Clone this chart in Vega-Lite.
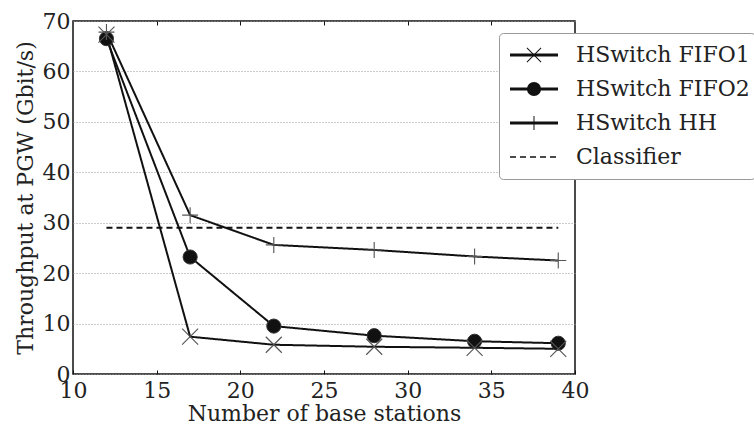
{
  "$schema": "https://vega.github.io/schema/vega-lite/v6.json",
  "width": 502,
  "height": 353,
  "autosize": "none",
  "padding": {"left": 73, "top": 21, "right": 179, "bottom": 54},
  "background": "white",
  "config": {
    "font": "DejaVu Serif",
    "view": {"stroke": "#111", "strokeWidth": 1.5},
    "axis": {
      "labelFont": "DejaVu Serif",
      "titleFont": "DejaVu Serif",
      "labelFontSize": 22,
      "titleFontSize": 22,
      "titleFontWeight": "normal",
      "labelColor": "#222",
      "titleColor": "#222",
      "labelFlush": false,
      "domain": false
    }
  },
  "data": {
    "values": [
      {"series": "HSwitch FIFO1", "x": 12, "y": 67.3},
      {"series": "HSwitch FIFO1", "x": 17, "y": 7.4},
      {"series": "HSwitch FIFO1", "x": 22, "y": 5.8},
      {"series": "HSwitch FIFO1", "x": 28, "y": 5.4},
      {"series": "HSwitch FIFO1", "x": 34, "y": 5.2},
      {"series": "HSwitch FIFO1", "x": 39, "y": 5.0},
      {"series": "HSwitch FIFO2", "x": 12, "y": 66.5},
      {"series": "HSwitch FIFO2", "x": 17, "y": 23.2},
      {"series": "HSwitch FIFO2", "x": 22, "y": 9.5},
      {"series": "HSwitch FIFO2", "x": 28, "y": 7.6},
      {"series": "HSwitch FIFO2", "x": 34, "y": 6.5},
      {"series": "HSwitch FIFO2", "x": 39, "y": 6.1},
      {"series": "HSwitch HH", "x": 12, "y": 67.8},
      {"series": "HSwitch HH", "x": 17, "y": 31.5},
      {"series": "HSwitch HH", "x": 22, "y": 25.6},
      {"series": "HSwitch HH", "x": 28, "y": 24.6},
      {"series": "HSwitch HH", "x": 34, "y": 23.3},
      {"series": "HSwitch HH", "x": 39, "y": 22.5},
      {"series": "Classifier", "x": 12, "y": 29},
      {"series": "Classifier", "x": 39, "y": 29}
    ]
  },
  "layer": [
    {
      "mark": {"type": "line", "strokeWidth": 2, "color": "#111"},
      "encoding": {
        "x": {
          "field": "x", "type": "quantitative",
          "scale": {"domain": [10, 40], "nice": false, "zero": false},
          "axis": {
            "title": "Number of base stations",
            "values": [10, 15, 20, 25, 30, 35, 40],
            "grid": false,
            "tickSize": -4,
            "tickColor": "#111",
            "labelPadding": 10,
            "titlePadding": 2
          }
        },
        "y": {
          "field": "y", "type": "quantitative",
          "scale": {"domain": [0, 70], "nice": false},
          "axis": {
            "title": "Throughput at PGW (Gbit/s)",
            "values": [0, 10, 20, 30, 40, 50, 60, 70],
            "ticks": false,
            "labelPadding": 3,
            "titlePadding": 5,
            "grid": true,
            "gridDash": [1, 2],
            "gridColor": "#999",
            "gridWidth": 1
          }
        },
        "strokeDash": {
          "field": "series", "type": "nominal",
          "scale": {
            "domain": ["HSwitch FIFO1", "HSwitch FIFO2", "HSwitch HH", "Classifier"],
            "range": [[1, 0], [1, 0], [1, 0], [6, 4]]
          },
          "legend": {
            "orient": "none", "legendX": 426, "legendY": 12,
            "title": null, "symbolType": "stroke", "symbolSize": 2304,
            "symbolStrokeWidth": 3, "symbolStrokeColor": "#111",
            "labelFontSize": 22, "labelFont": "DejaVu Serif", "labelColor": "#222",
            "labelLimit": 400,
            "labelOffset": 18, "clipHeight": 34, "rowPadding": 0, "padding": 5,
            "strokeColor": "#999", "fillColor": "white", "cornerRadius": 4,
            "zindex": 1,
            "encode": {
              "symbols": {"update": {
                "x": {"value": 30},
                "strokeWidth": {"signal": "datum.value === 'Classifier' ? 1.5 : 3"}
              }},
              "labels": {"update": {"x": {"value": 72}}}
            }
          }
        }
      }
    },
    {
      "transform": [{"filter": "datum.series === 'HSwitch FIFO2'"}],
      "mark": {"type": "point", "filled": true, "color": "#111", "stroke": "#333", "strokeWidth": 1, "size": 200, "opacity": 1},
      "encoding": {
        "x": {
          "field": "x", "type": "quantitative",
          "axis": {"orient": "top", "labels": false, "title": null, "grid": false, "values": [15, 20, 25, 30, 35], "tickSize": -4, "tickColor": "#111"}
        },
        "y": {"field": "y", "type": "quantitative"},
        "shape": {
          "field": "series", "type": "nominal",
          "scale": {
            "domain": ["HSwitch FIFO2", "HSwitch FIFO1", "HSwitch HH", "Classifier"],
            "range": [
              "circle",
              "M-0.95,-1.05L1.05,0.95L0.95,1.05L-1.05,-0.95ZM-0.95,1.05L-1.05,0.95L0.95,-1.05L1.05,-0.95Z",
              "M-0.07,-1L0.07,-1L0.07,1L-0.07,1ZM-1,-0.07L1,-0.07L1,0.07L-1,0.07Z",
              "M0,0"
            ]
          },
          "legend": {
            "orient": "none", "legendX": 426, "legendY": 12,
            "title": null,
            "values": ["HSwitch FIFO1", "HSwitch FIFO2", "HSwitch HH", "Classifier"],
            "symbolSize": 200, "symbolOffset": 19,
            "symbolFillColor": "#111", "symbolStrokeColor": "#555", "symbolStrokeWidth": 1,
            "labelFontSize": 22, "labelFont": "DejaVu Serif", "labelExpr": "''",
            "labelOffset": 18, "clipHeight": 34, "rowPadding": 0, "padding": 5,
            "zindex": 2
          }
        }
      }
    },
    {
      "transform": [{"filter": "datum.series === 'HSwitch FIFO1' || datum.series === 'HSwitch HH'"}],
      "mark": {"type": "point", "filled": true, "color": "#555", "size": 256, "opacity": 1},
      "encoding": {
        "x": {"field": "x", "type": "quantitative", "axis": null},
        "y": {"field": "y", "type": "quantitative"},
        "shape": {
          "field": "series", "type": "nominal",
          "legend": {
            "orient": "none", "legendX": 426, "legendY": 12,
            "title": null,
            "values": ["HSwitch FIFO1", "HSwitch FIFO2", "HSwitch HH", "Classifier"],
            "symbolSize": 200, "symbolOffset": 19,
            "symbolFillColor": "#111", "symbolStrokeColor": "#555", "symbolStrokeWidth": 1,
            "labelFontSize": 22, "labelFont": "DejaVu Serif", "labelExpr": "''",
            "labelOffset": 18, "clipHeight": 34, "rowPadding": 0, "padding": 5,
            "zindex": 2
          }
        }
      }
    }
  ],
  "resolve": {"axis": {"x": "independent"}}
}
